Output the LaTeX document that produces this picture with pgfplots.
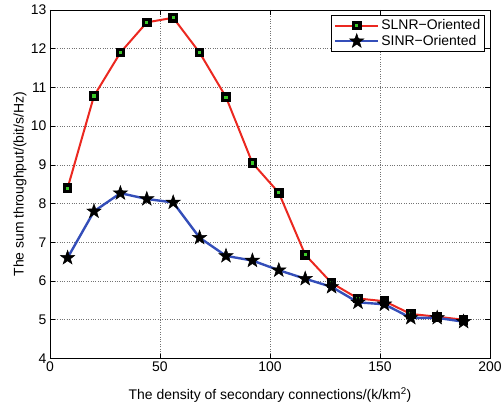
\documentclass[border=0pt]{standalone}
\usepackage{pgfplots}
\pgfplotsset{compat=1.18}
\usepackage{fontspec}
\setmainfont{Liberation Sans}
\definecolor{myred}{RGB}{235,40,32}
\definecolor{myblue}{RGB}{52,78,185}
\definecolor{mygreen}{RGB}{60,200,40}
\pgfdeclareplotmark{pentastar}{%
  \pgfpathmoveto{\pgfpointpolar{90}{\pgfplotmarksize}}%
  \pgfpathlineto{\pgfpointpolar{126}{0.4\pgfplotmarksize}}%
  \pgfpathlineto{\pgfpointpolar{162}{\pgfplotmarksize}}%
  \pgfpathlineto{\pgfpointpolar{198}{0.4\pgfplotmarksize}}%
  \pgfpathlineto{\pgfpointpolar{234}{\pgfplotmarksize}}%
  \pgfpathlineto{\pgfpointpolar{270}{0.4\pgfplotmarksize}}%
  \pgfpathlineto{\pgfpointpolar{306}{\pgfplotmarksize}}%
  \pgfpathlineto{\pgfpointpolar{342}{0.4\pgfplotmarksize}}%
  \pgfpathlineto{\pgfpointpolar{18}{\pgfplotmarksize}}%
  \pgfpathlineto{\pgfpointpolar{54}{0.4\pgfplotmarksize}}%
  \pgfpathclose
  \pgfusepathqfillstroke}
\begin{document}
\begin{tikzpicture}
\begin{axis}[
  scale only axis,
  width=440bp, height=348.5bp,
  xmin=0, xmax=200, ymin=4, ymax=13,
  xtick={0,50,100,150,200},
  ytick={4,5,6,7,8,9,10,11,12,13},
  grid=major,
  major grid style={dotted, black!55, line width=0.7pt},
  axis line style={black, line width=0.9pt},
  tick style={black, line width=0.6pt},
  major tick length=5bp,
  tick align=inside,
  /pgf/number format/assume math mode=true,
  ticklabel style={font=\fontsize{14}{16}\selectfont},
  xlabel={The density of secondary connections/(k/km\textsuperscript{2})},
  ylabel={The sum throughput/(bit/s/Hz)},
  xlabel style={font=\fontsize{14}{16}\selectfont, at={(axis description cs:0.5,-0.119)}, anchor=base},
  ylabel style={font=\fontsize{14}{16}\selectfont, at={(axis description cs:-0.068,0.5)}, anchor=center},
  legend style={at={(axis description cs:0.989,0.986)}, anchor=north east, font=\fontsize{14}{16}\selectfont, draw=black, line width=0.8pt, inner sep=2.5bp, row sep=0bp},
  legend cell align=left,
  legend image code/.code={\draw[mark repeat=2,mark phase=2,#1] plot coordinates {(0bp,0bp)(21.5bp,0bp)(43bp,0bp)};},
]
\addplot[myred, line width=2pt, mark=square*, mark size=3.2bp, mark options={fill=mygreen, draw=black, line width=3.3bp}]
coordinates {(8,8.4)(20,10.78)(32,11.9)(44,12.68)(56,12.8)(68,11.9)(80,10.75)(92,9.05)(104,8.28)(116,6.68)(128,5.95)(140,5.55)(152,5.48)(164,5.15)(176,5.08)(188,5.0)};
\addlegendentry{SLNR−Oriented}
\addplot[myblue, line width=2.4pt, mark=pentastar, mark size=7.5bp, mark options={black, fill=black, line width=0.5pt}]
coordinates {(8,6.6)(20,7.8)(32,8.27)(44,8.12)(56,8.03)(68,7.12)(80,6.65)(92,6.53)(104,6.28)(116,6.06)(128,5.85)(140,5.45)(152,5.4)(164,5.05)(176,5.05)(188,4.95)};
\addlegendentry{SINR−Oriented}
\end{axis}
\pgfresetboundingbox
\path ([xshift=-50bp,yshift=-49.5bp]current axis.south west) rectangle ([xshift=12bp,yshift=10bp]current axis.north east);
\end{tikzpicture}
\end{document}
